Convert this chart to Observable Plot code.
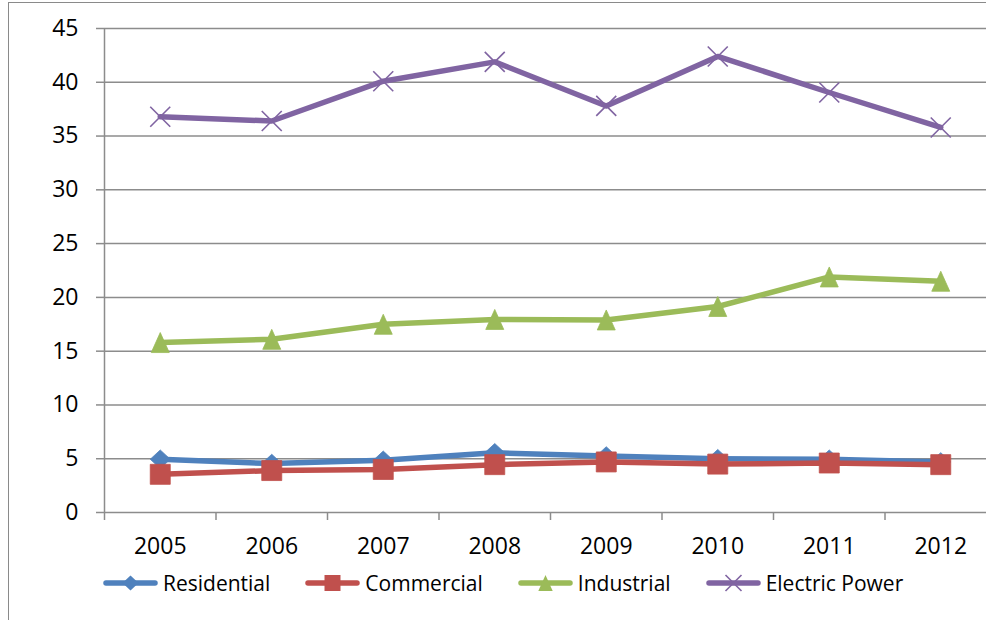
<!DOCTYPE html>
<html>
<head>
<meta charset="utf-8">
<script src="https://cdn.jsdelivr.net/npm/d3@7"></script>
<script src="https://cdn.jsdelivr.net/npm/@observablehq/plot@0.6"></script>
<style>
  html, body { margin: 0; padding: 0; background: #fff; }
  body { width: 986px; height: 620px; overflow: hidden; position: relative; font-family: "Open Sans", sans-serif; }
  #frame { position: absolute; left: 8px; top: 2px; right: -20px; bottom: -20px; border-left: 1.5px solid #8a8a8a; border-top: 1.5px solid #8a8a8a; }
  #chart { position: absolute; left: 0; top: 0; width: 996px; }
  #chart svg { max-width: none !important; }
  #legend { position: absolute; left: 103px; top: 569px; display: flex; align-items: center; font-size: 21px; color: #000; white-space: nowrap; }
  .item { display: flex; align-items: center; margin-right: 35px; }
  .item svg { display: block; margin-right: 5px; }
</style>
</head>
<body>
<div id="frame"></div>
<div id="chart"></div>
<div id="legend"></div>
<script>
// ---- data ----
const years = [2005, 2006, 2007, 2008, 2009, 2010, 2011, 2012];
const seriesNames = ["Residential", "Commercial", "Industrial", "Electric Power"];
const residential = [4.95, 4.55, 4.85, 5.55, 5.25, 5.0, 4.95, 4.7];
const commercial = [3.55, 3.9, 4.0, 4.45, 4.7, 4.5, 4.6, 4.45];
const industrial = [15.8, 16.1, 17.5, 17.95, 17.9, 19.15, 21.9, 21.5];
const electricPower = [36.8, 36.4, 40.1, 41.9, 37.8, 42.4, 39.05, 35.8];
const yTicks = [0, 5, 10, 15, 20, 25, 30, 35, 40, 45];

// ---- styles ----
const colors = ["#4F81BD", "#C0504D", "#9BBB59", "#8064A2"];
const gridColor = "#8c8c8c";

// Excel-like marker symbols (r = half size)
const diamondSym = { draw(ctx, size) { const r = Math.sqrt(size / Math.PI); ctx.moveTo(0, -r * 0.93); ctx.lineTo(r, 0); ctx.lineTo(0, r * 0.93); ctx.lineTo(-r, 0); ctx.closePath(); } };
const squareSym = { draw(ctx, size) { const r = Math.sqrt(size / Math.PI); ctx.rect(-r, -r, 2 * r, 2 * r); } };
const triangleSym = { draw(ctx, size) { const r = Math.sqrt(size / Math.PI); ctx.moveTo(0, -r); ctx.lineTo(r * 0.9, r); ctx.lineTo(-r * 0.9, r); ctx.closePath(); } };
const timesSym = { draw(ctx, size) { const r = Math.sqrt(size / Math.PI); ctx.moveTo(-r, -r); ctx.lineTo(r, r); ctx.moveTo(r, -r); ctx.lineTo(-r, r); } };
const symbols = [diamondSym, squareSym, triangleSym, timesSym];

const allValues = [residential, commercial, industrial, electricPower];
const seriesData = allValues.map((vals, s) => years.map((year, i) => ({ series: seriesNames[s], year, value: vals[i] })));

const boundaries = years.map(y => y - 0.5).concat([years[years.length - 1] + 0.5]);

const marks = [
  Plot.gridY(yTicks, { stroke: gridColor, strokeOpacity: 1, strokeWidth: 1.5 }),
  Plot.ruleX([boundaries[0]], { stroke: gridColor, strokeWidth: 1.5 }),
  Plot.axisY({ ticks: yTicks, tickSize: 8, tickPadding: 18, stroke: gridColor, strokeWidth: 1.5, fill: "#000", fontSize: 23, label: null }),
  Plot.axisX({ ticks: boundaries, tickSize: 8, tickFormat: () => "", stroke: gridColor, strokeWidth: 1.5, label: null }),
  Plot.axisX({ ticks: years, tickSize: 0, tickPadding: 25, tickFormat: d => String(d), fill: "#000", fontSize: 23, label: null })
];

seriesData.forEach((data, s) => {
  marks.push(Plot.line(data, { x: "year", y: "value", stroke: colors[s], strokeWidth: 5.5, strokeLinejoin: "round", strokeLinecap: "round" }));
  if (s === 3) {
    marks.push(Plot.dot(data, { x: "year", y: "value", symbol: symbols[s], r: 10, stroke: colors[s], strokeWidth: 1.6, fill: "none" }));
  } else {
    marks.push(Plot.dot(data, { x: "year", y: "value", symbol: symbols[s], r: 10, fill: colors[s], stroke: colors[s], strokeWidth: 0.8 }));
  }
});

const chart = Plot.plot({
  width: 996,
  height: 565,
  marginLeft: 104,
  marginRight: 0,
  marginTop: 28,
  marginBottom: 53,
  style: { fontFamily: "'Open Sans', sans-serif", fontSize: "22px", background: "transparent", overflow: "visible", color: "#000", maxWidth: "none" },
  x: { type: "linear", domain: [boundaries[0], boundaries[boundaries.length - 1]], axis: null },
  y: { domain: [0, 45], axis: null },
  marks
});
document.getElementById("chart").appendChild(chart);

// ---- legend ----
const legend = d3.select("#legend");
seriesNames.forEach((name, s) => {
  const item = legend.append("div").attr("class", "item");
  const svg = item.append("svg").attr("width", 55).attr("height", 24);
  svg.append("line").attr("x1", 3).attr("x2", 52).attr("y1", 12).attr("y2", 12)
    .attr("stroke", colors[s]).attr("stroke-width", 5.5).attr("stroke-linecap", "round");
  const p = d3.path();
  symbols[s].draw(p, 8 * 8 * Math.PI);
  const path = svg.append("path").attr("d", p.toString()).attr("transform", "translate(27.5,12)");
  if (s === 3) path.attr("fill", "none").attr("stroke", colors[s]).attr("stroke-width", 1.6);
  else path.attr("fill", colors[s]);
  item.append("span").text(name);
});
</script>
</body>
</html>
